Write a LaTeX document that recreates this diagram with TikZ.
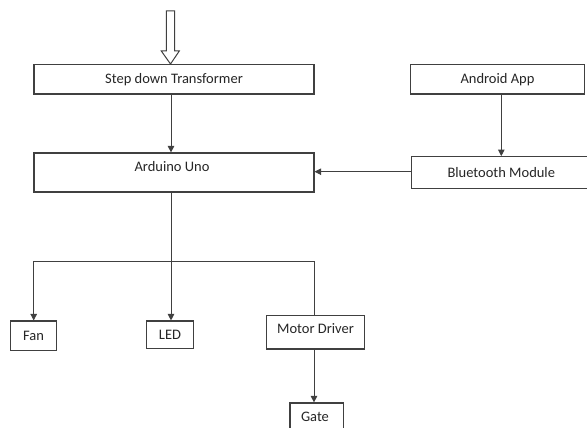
\documentclass[tikz,border=0pt]{standalone}
\usepackage{fontspec}
\setmainfont{Carlito}
\usetikzlibrary{arrows.meta}
\definecolor{ln}{HTML}{404040}
\definecolor{tx}{HTML}{262626}
\begin{document}
\begin{tikzpicture}[x=1pt,y=-1pt,
  box/.style={draw=ln,line width=1.2pt,rectangle,inner sep=0pt,text=tx,
    font=\fontsize{14.5}{16}\selectfont},
  lbl/.style={inner sep=0pt,text=tx,font=\fontsize{14.5}{16}\selectfont},
  arr/.style={draw=ln,line width=0.9pt,-{Triangle[width=6.5pt,length=6.5pt]}},
  ln/.style={draw=ln,line width=0.9pt}]
\useasboundingbox (0,0) rectangle (587,428);
\clip (0,0) rectangle (587,428);
\fill[white] (0,0) rectangle (587,428);
% boxes
\node[box,minimum width=280pt,minimum height=29.5pt] (trans) at (174,79.25) {Step down Transformer};
\node[box,minimum width=280pt,minimum height=39pt] (ard) at (174,172.5) {};
\node[lbl] (ardl) at (172,167) {Arduino Uno};
\node[box,minimum width=173.6pt,minimum height=29.7pt] (android) at (497.5,79.2) {Android App};
\node[box,minimum width=180pt,minimum height=31.6pt] (bt) at (501.3,172.5) {Bluetooth Module};
\node[box,minimum width=46.4pt,minimum height=29.7pt] (fan) at (33.5,335.9) {Fan};
\node[box,minimum width=46.7pt,minimum height=27.7pt] (led) at (170,334.9) {LED};
\node[box,minimum width=97.6pt,minimum height=33.3pt] (motor) at (315.5,332.3) {};
\node[lbl] (motorl) at (315.5,329) {Motor Driver};
\node[box,minimum width=53.3pt,minimum height=34pt] (gate) at (316.7,420) {};
\node[lbl] (gatel) at (315,416.7) {Gate};
% hollow input arrow
\draw[draw=ln,line width=1pt,fill=white,line join=miter]
  (166.3,11) -- (174.7,11) -- (174.7,51) -- (179.3,51) -- (170.5,64) -- (161.3,51) -- (166.3,51) -- cycle;
% coordinates
\coordinate (cx) at (171,0);
\coordinate (j) at (171,261);
\coordinate (jl) at (33.7,261);
\coordinate (jr) at (314,261);
% connectors
\draw[arr] (trans.south -| cx) -- (ard.north -| cx);
\draw[arr] (android.south -| bt) -- (bt.north);
\draw[arr] (bt.west |- 0,171.7) -- (ard.east |- 0,171.7);
\draw[ln] (ard.south -| cx) -- (j);
\draw[ln] (jl) -- (jr);
\draw[arr] (jl) -- (fan.north -| jl);
\draw[arr] (j) -- (led.north -| j);
\draw[ln] (jr) -- (motor.north -| jr);
\draw[arr] (motor.south -| jr) -- (gate.north -| jr);
\end{tikzpicture}
\end{document}
